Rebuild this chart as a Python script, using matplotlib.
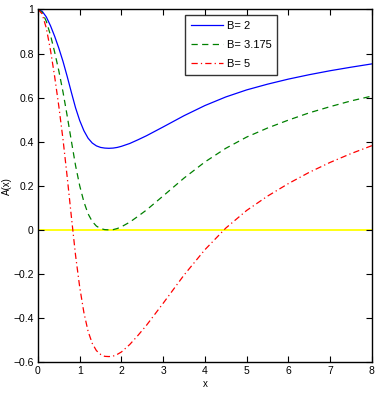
import matplotlib
matplotlib.use("Agg")
import matplotlib.pyplot as plt

x = [0, 0.1, 0.2, 0.3, 0.4, 0.5, 0.6, 0.7, 0.8, 0.9, 1.0, 1.1, 1.2, 1.3, 1.4,
     1.5, 1.6, 1.7, 1.8, 1.9, 2.0, 2.2, 2.4, 2.6, 2.8, 3.0, 3.5, 4.0, 4.5,
     5.0, 5.5, 6.0, 6.5, 7.0, 7.5, 8.0]

a_b2 = [1.0, 0.992, 0.966, 0.926, 0.878, 0.824, 0.764, 0.696, 0.624, 0.554,
        0.496, 0.450, 0.416, 0.394, 0.381, 0.374, 0.371, 0.370, 0.371, 0.374,
        0.379, 0.392, 0.409, 0.427, 0.447, 0.467, 0.518, 0.564, 0.603, 0.635,
        0.661, 0.684, 0.704, 0.722, 0.738, 0.753]

a_b3175 = [1.0, 0.987, 0.946, 0.883, 0.806, 0.721, 0.625, 0.517, 0.403, 0.292,
           0.200, 0.127, 0.073, 0.038, 0.017, 0.006, 0.001, 0.000, 0.001, 0.006,
           0.014, 0.035, 0.062, 0.090, 0.122, 0.154, 0.235, 0.308, 0.370, 0.421,
           0.462, 0.498, 0.531, 0.559, 0.585, 0.607]

a_b5 = [1.0, 0.980, 0.915, 0.815, 0.695, 0.560, 0.410, 0.240, 0.060, -0.115,
        -0.260, -0.375, -0.460, -0.515, -0.548, -0.565, -0.574, -0.575, -0.573,
        -0.565, -0.554, -0.520, -0.478, -0.433, -0.383, -0.333, -0.205, -0.090,
        0.008, 0.088, 0.153, 0.210, 0.261, 0.306, 0.346, 0.382]

labels = ["B= 2", "B= 3.175", "B= 5"]
xticks = [0, 1, 2, 3, 4, 5, 6, 7, 8]
yticks = [-0.6, -0.4, -0.2, 0, 0.2, 0.4, 0.6, 0.8, 1]
ytick_labels = ["\u22120.6", "\u22120.4", "\u22120.2", "0", "0.2", "0.4", "0.6", "0.8", "1"]

plt.rcParams['font.family'] = ['Liberation Sans', 'DejaVu Sans']

fig = plt.figure(figsize=(3.76, 3.94), dpi=100)
ax = fig.add_axes([0.101, 0.081, 0.888, 0.895])

ax.plot(x, a_b2, color='#0000ff', lw=0.9, ls='-', label=labels[0])
ax.plot(x, a_b3175, color='#008000', lw=0.9, ls=(0, (5, 3.5)), label=labels[1])
ax.plot(x, a_b5, color='#ff0000', lw=0.9, ls=(0, (5, 2.5, 1, 2.5)), label=labels[2])
ax.plot([xticks[0], xticks[-1]], [0, 0], color='#ffff00', lw=1.3, zorder=1)

ax.set_xlim(0, 8)
ax.set_ylim(-0.6, 1)
ax.set_xticks(xticks)
ax.set_xticklabels([str(t) for t in xticks])
ax.set_yticks(yticks)
ax.set_yticklabels(ytick_labels)
ax.tick_params(direction='in', top=True, right=True, length=4, width=0.8,
               labelsize=7.5, pad=3)
for s in ax.spines.values():
    s.set_linewidth(1.0)

ax.set_xlabel("x", fontsize=7, labelpad=2)
ax.set_ylabel("A(x)", fontsize=7)
ax.yaxis.set_label_coords(-0.078, 0.5)

leg = ax.legend(loc='upper left', bbox_to_anchor=(0.44, 0.985), fontsize=8,
                frameon=True, fancybox=False, edgecolor='black',
                handlelength=2.9, handletextpad=0.3, borderpad=0.55,
                labelspacing=0.8, borderaxespad=0)
leg.get_frame().set_linewidth(1.0)

fig.savefig("out.png", dpi=100)
